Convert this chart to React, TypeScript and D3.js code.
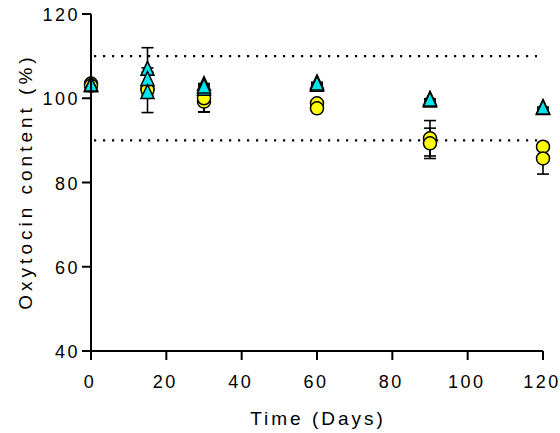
import React from "react";
import * as d3 from "d3";

const days = [0, 15, 30, 60, 90, 120];
const circleA = [103.5, 102.3, 99.2, 98.8, 90.5, 88.5];
const circleAErr = [0.5, 0.8, 2.4, 0.6, 4.2, 0.6];
const circleB = [103.0, 102.0, 100.0, 97.6, 89.3, 85.7];
const circleBErr = [0.5, 0.8, 3.3, 0.6, 3.6, 3.7];
const triA = [103.0, 106.7, 103.1, 103.5, 99.6, 97.4];
const triAErr = [0.3, 0.5, 0.4, 0.3, 0.3, 0.3];
const triB = [102.8, 104.3, 102.0, 102.9, 99.2, 97.6];
const triBErr = [0.3, 7.7, 0.4, 0.3, 0.3, 0.3];
const triC = [103.0, 101.2, 102.5, 103.2, 99.4, 97.5];
const triCErr = [0.3, 0.5, 0.4, 0.3, 0.3, 0.3];
const limits = [110, 90];
const xTicks = [0, 20, 40, 60, 80, 100, 120];
const yTicks = [40, 60, 80, 100, 120];

export default function App() {
  const W = 560, H = 433;
  const x = d3.scaleLinear().domain([0, 120]).range([91, 543]);
  const y = d3.scaleLinear().domain([40, 120]).range([351, 14]);
  const font = "'Liberation Sans', Arial, sans-serif";

  const circles = [
    { v: circleA, e: circleAErr },
    { v: circleB, e: circleBErr },
  ];
  const tris = [
    { v: triA, e: triAErr },
    { v: triB, e: triBErr },
    { v: triC, e: triCErr },
  ];
  const triPath = (cx: number, cy: number) => {
    const h = 14, w = 13;
    return `M${cx},${cy - h * 0.62}L${cx + w / 2},${cy + h * 0.38}L${cx - w / 2},${cy + h * 0.38}Z`;
  };
  const errBar = (cx: number, m: number, e: number, key: string) => (
    <g key={key} stroke="#000" strokeWidth={1.6}>
      <line x1={cx} x2={cx} y1={y(m + e)} y2={y(m - e)} />
      <line x1={cx - 6} x2={cx + 6} y1={y(m + e)} y2={y(m + e)} />
      <line x1={cx - 6} x2={cx + 6} y1={y(m - e)} y2={y(m - e)} />
    </g>
  );

  return (
    <svg width={W} height={H} style={{ position: "absolute", left: 0, top: 0 }}>
      <rect width={W} height={H} fill="#fff" />
      {limits.map((l) => (
        <line key={l} x1={x(0) + 3} x2={537} y1={y(l)} y2={y(l)} stroke="#000"
          strokeWidth={2.2} strokeDasharray="2.2 6.8" />
      ))}
      {circles.map((s, si) => days.map((d, i) => errBar(x(d), s.v[i], s.e[i], `ce${si}-${i}`)))}
      {tris.map((s, si) => days.map((d, i) => errBar(x(d), s.v[i], s.e[i], `te${si}-${i}`)))}
      {circles.map((s, si) => days.map((d, i) => (
        <circle key={`c${si}-${i}`} cx={x(d)} cy={y(s.v[i])} r={6.5}
          fill="#ffff00" stroke="#000" strokeWidth={1.5} />
      )))}
      {tris.map((s, si) => days.map((d, i) => (
        <path key={`t${si}-${i}`} d={triPath(x(d), y(s.v[i]))}
          fill="#00e5ee" stroke="#000" strokeWidth={1.5} strokeLinejoin="miter" />
      )))}
      <line x1={x(0)} x2={x(0)} y1={y(120)} y2={y(40) + 1} stroke="#000" strokeWidth={2} />
      <line x1={x(0) - 9} x2={x(120)} y1={y(40)} y2={y(40)} stroke="#000" strokeWidth={2} />
      {yTicks.map((t) => (
        <g key={`yt${t}`}>
          <line x1={x(0) - 9} x2={x(0)} y1={y(t)} y2={y(t)} stroke="#000" strokeWidth={2} />
          <text x={80} y={y(t) + 7} textAnchor="end" fontFamily={font} fontSize={18}
            letterSpacing={2.5} fill="#000">{t}</text>
        </g>
      ))}
      {xTicks.map((t) => (
        <g key={`xt${t}`}>
          <line x1={x(t)} x2={x(t)} y1={y(40)} y2={y(40) + 9} stroke="#000" strokeWidth={2} />
          <text x={x(t) - 1} y={388} textAnchor="middle" fontFamily={font} fontSize={18}
            letterSpacing={2.5} fill="#000">{t}</text>
        </g>
      ))}
      <text x={318} y={425} textAnchor="middle" fontFamily={font} fontSize={19}
        letterSpacing={3} fill="#000">Time (Days)</text>
      <text transform={`translate(31.5,181.5) rotate(-90)`} textAnchor="middle" fontFamily={font}
        fontSize={19} letterSpacing={4} fill="#000">Oxytocin content (%)</text>
    </svg>
  );
}
